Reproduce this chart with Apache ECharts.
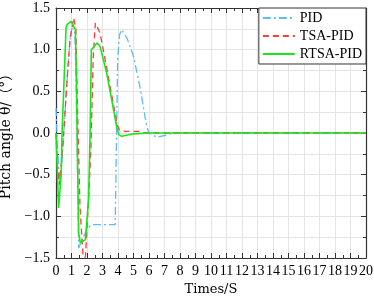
<!DOCTYPE html>
<html>
<head>
<meta charset="utf-8">
<script src="https://cdn.jsdelivr.net/npm/echarts@6/dist/echarts.min.js"></script>
<style>
  html, body { margin: 0; padding: 0; background: #fff; }
  #chart { width: 374px; height: 300px; }
</style>
</head>
<body>
<div id="chart"></div>
<script>
// PID
var pidT = [0, 0.1, 0.25, 0.38, 0.5, 0.7, 0.92, 1.03, 1.22, 1.3, 1.46, 1.7, 2.0, 2.3, 3.82, 3.9, 3.98, 4.1, 4.24, 4.6, 5.0, 5.42, 5.85, 6.0, 6.5, 7.0, 7.57, 20];
var pidY = [0.3, -0.2, -0.6, -0.35, 0, 0.6, 1.15, 1.26, 1.2, 0.6, -1.38, -1.28, -1.15, -1.1, -1.1, -0.1, 0.9, 1.18, 1.24, 1.13, 0.92, 0.55, 0.08, 0, -0.05, -0.03, 0, 0];
// TSA-PID
var tsaT = [0, 0.1, 0.22, 0.35, 0.5, 0.7, 0.9, 1.14, 1.28, 1.4, 1.55, 1.75, 1.9, 2.1, 2.25, 2.4, 2.54, 2.84, 3.1, 3.4, 3.7, 3.95, 4.1, 4.5, 5.3, 5.8, 20];
var tsaY = [0, -0.4, -0.62, -0.35, 0, 0.6, 1.12, 1.38, 1.25, 0.2, -0.9, -1.49, -1.49, -0.8, -0.2, 0.9, 1.32, 1.2, 0.95, 0.65, 0.35, 0.1, 0.03, 0.02, 0.02, 0, 0];
// RTSA-PID
var rtsaT = [0, 0.17, 0.34, 0.39, 0.65, 0.71, 0.97, 1.25, 1.3, 1.46, 1.57, 1.9, 2.1, 2.2, 2.28, 2.65, 2.84, 3.27, 3.59, 3.91, 4.05, 4.24, 5.0, 6, 20];
var rtsaY = [0, -0.9, -0.48, 0, 1.27, 1.3, 1.34, 1.24, 0.8, -1.2, -1.32, -1.28, -0.8, 0, 1.0, 1.08, 1.04, 0.72, 0.4, 0.08, -0.02, -0.04, -0.01, 0, 0];

var seriesNames = ['PID', 'TSA-PID', 'RTSA-PID'];

function pairs(t, y) {
  return t.map(function (v, i) { return [v, y[i]]; });
}

var font = '"Liberation Serif", "Noto Sans CJK SC", serif';
var nameFont = '"DejaVu Serif", "Noto Sans CJK SC", serif';
var axisColor = '#333';
var gridColor = '#e4e4e4';

var myChart = echarts.init(document.getElementById('chart'));

var baseX = {
  type: 'value', min: 0, max: 20, interval: 1,
  axisLine: { show: true, onZero: false, lineStyle: { color: axisColor, width: 1.2 } },
  axisTick: { inside: true, length: 5, lineStyle: { color: axisColor } },
  minorTick: { show: true, splitNumber: 2, length: 3, lineStyle: { color: axisColor } }
};
var baseY = {
  type: 'value', min: -1.5, max: 1.5, interval: 0.5,
  axisLine: { show: true, onZero: false, lineStyle: { color: axisColor, width: 1.2 } },
  axisTick: { inside: true, length: 5, lineStyle: { color: axisColor } },
  minorTick: { show: true, splitNumber: 2, length: 3, lineStyle: { color: axisColor } }
};

var option = {
  animation: false,
  backgroundColor: '#fff',
  grid: { left: 56, right: 8, top: 8, bottom: 42, containLabel: false, outerBoundsMode: 'none' },
  legend: {
    data: seriesNames,
    orient: 'vertical',
    right: 8, top: 8,
    backgroundColor: '#fff',
    borderColor: axisColor, borderWidth: 1, borderRadius: 0,
    padding: [3, 4, 3, 3],
    itemWidth: 32, itemHeight: 10, itemGap: 4,
    itemStyle: { opacity: 0 },
    textStyle: { fontFamily: font, fontSize: 14, color: '#000' }
  },
  xAxis: [
    Object.assign({}, baseX, {
      position: 'bottom',
      splitLine: { show: true, lineStyle: { color: gridColor } },
      axisLabel: { margin: 6, fontFamily: font, fontSize: 14, color: '#000' },
      name: 'Times/S', nameLocation: 'middle', nameGap: 23,
      nameTextStyle: { fontFamily: nameFont, fontSize: 13, color: '#000' }
    }),
    Object.assign({}, baseX, {
      position: 'top',
      splitLine: { show: false },
      axisLabel: { show: false }
    })
  ],
  yAxis: [
    Object.assign({}, baseY, {
      position: 'left',
      splitLine: { show: true, lineStyle: { color: gridColor } },
      minorSplitLine: { show: true, lineStyle: { color: gridColor } },
      axisLabel: {
        margin: 6, fontFamily: font, fontSize: 14, color: '#000',
        formatter: function (v) { return v.toFixed(1).replace('-', '\u2212'); }
      },
      name: 'Pitch angle θ/（°）', nameLocation: 'middle', nameGap: 38,
      nameTextStyle: { fontFamily: nameFont, fontSize: 14, color: '#000' }
    }),
    Object.assign({}, baseY, {
      position: 'right',
      splitLine: { show: false },
      axisLabel: { show: false }
    })
  ],
  series: [
    {
      name: 'PID', type: 'line', symbol: 'none', smooth: false,
      color: '#5cbdf5',
      lineStyle: { width: 1.3, type: [8, 3, 2, 3] },
      data: pairs(pidT, pidY)
    },
    {
      name: 'TSA-PID', type: 'line', symbol: 'none', smooth: false,
      color: '#ff3b3b',
      lineStyle: { width: 1.3, type: [6, 4] },
      data: pairs(tsaT, tsaY)
    },
    {
      name: 'RTSA-PID', type: 'line', symbol: 'none', smooth: false,
      color: '#19e619',
      lineStyle: { width: 1.6, type: 'solid' },
      data: pairs(rtsaT, rtsaY)
    }
  ]
};

myChart.setOption(option);
</script>
</body>
</html>
